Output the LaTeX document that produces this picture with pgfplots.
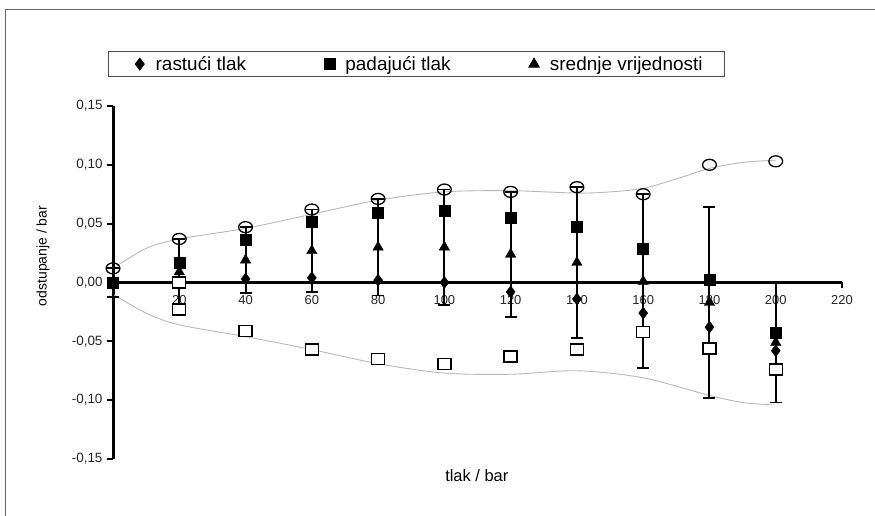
\documentclass[border=0pt]{standalone}
\usepackage{fontspec}
\setmainfont{Liberation Sans}
\usepackage{pgfplots}
\pgfplotsset{compat=1.18}
\pgfplotsset{
    legmark/.style={legend image code/.code={
        \path (-9bp,0bp) (15.5bp,0bp);
        \draw[##1] plot coordinates {(0bp,0bp)};
    }},
}
\begin{document}
\begin{tikzpicture}[x=1bp,y=1bp]
\useasboundingbox (0,0) rectangle (875,516);
% chart area frame (only top and left edges show)
\draw[line width=1bp, black!60] (5,0) -- (5,506) -- (875,506);
\begin{axis}[
    at={(113bp,57bp)}, anchor=south west,
    scale only axis, width=729bp, height=353bp,
    xmin=0, xmax=220, ymin=-0.15, ymax=0.15,
    enlargelimits=false, clip=false,
    axis x line=middle, axis y line=left,
    axis line style={line width=3bp, -},
    xtick={0,20,...,220},
    ytick={-0.15,-0.1,...,0.15},
    tick align=outside,
    major tick length=6bp,
    tick style={line width=2bp, black},
    /pgf/number format/assume math mode=true,
    yticklabel style={font=\fontsize{13.5}{16}\selectfont, text=black!85, xshift=-1bp,
        /pgf/number format/use comma, /pgf/number format/fixed,
        /pgf/number format/fixed zerofill, /pgf/number format/precision=2},
    xticklabel style={font=\fontsize{13}{15}\selectfont, text=black!85, yshift=-3bp},
    xlabel={tlak / bar}, ylabel={odstupanje / bar},
    xlabel style={font=\fontsize{16.5}{19}\selectfont,
        at={(axis description cs:0.499,-0.048)}, anchor=center},
    ylabel style={font=\fontsize{14}{17}\selectfont,
        at={(axis description cs:-0.096,0.575)}, anchor=center},
    legend columns=3,
    legend style={at={(axis description cs:-0.0069,1.1558)}, anchor=north west,
        draw=black!70, line width=0.8bp, font=\fontsize{19}{22}\selectfont,
        inner xsep=22bp, inner ysep=5bp,
        nodes={inner sep=0bp},
        /tikz/every odd column/.append style={column sep=0bp},
        /tikz/every even column/.append style={column sep=74bp}},
    legend cell align=left,
]
% smooth envelope lines
\addplot[forget plot, gray!55, line width=0.9bp, smooth] coordinates {
    (0,0.012) (10,0.029) (20,0.037) (40,0.046) (60,0.058) (80,0.070) (100,0.077)
    (120,0.078) (140,0.076) (150,0.077) (160,0.080) (170,0.088) (180,0.097) (190,0.102) (200,0.104)
};
\addplot[forget plot, gray!55, line width=0.9bp, smooth] coordinates {
    (0,-0.010) (10,-0.026) (20,-0.036) (40,-0.046) (60,-0.057) (80,-0.069) (100,-0.077)
    (120,-0.078) (140,-0.075) (160,-0.081) (180,-0.096) (190,-0.102) (199,-0.104)
};
% rastuci tlak
\addplot[only marks, mark=diamond*, mark size=6bp, black, legmark] coordinates {
    (0,0) (20,0.001) (40,0.003) (60,0.004) (80,0.002) (100,0.0) (120,-0.008)
    (140,-0.014) (160,-0.026) (180,-0.038) (200,-0.058)
};
\addlegendentry{rastući tlak}
% padajuci tlak
\addplot[only marks, mark=square*, mark size=5.5bp, black, legmark] coordinates {
    (0,0) (20,0.017) (40,0.036) (60,0.052) (80,0.059) (100,0.061) (120,0.055)
    (140,0.047) (160,0.029) (180,0.002) (200,-0.043)
};
\addlegendentry{padajući tlak}
% srednje vrijednosti with error bars
\addplot[only marks, mark=triangle*, mark size=6bp, black, legmark,
    error bars/.cd, y dir=both, y explicit,
    error bar style={line width=2bp, black},
    error mark options={rotate=90, mark size=6bp, line width=1.8bp, black}]
  coordinates {
    (0,0.000) +- (0,0.012)
    (20,0.009) +- (0,0.028)
    (40,0.019) +- (0,0.028)
    (60,0.027) +- (0,0.035)
    (80,0.030) +- (0,0.041)
    (100,0.030) +- (0,0.049)
    (120,0.024) +- (0,0.053)
    (140,0.017) +- (0,0.064)
    (160,0.001) +- (0,0.074)
    (180,-0.017) +- (0,0.081)
    (200,-0.051) +- (0,0.051)
};
\addlegendentry{srednje vrijednosti}
% upper limit (open circles)
\addplot[forget plot, only marks, mark=o, mark size=5.5bp, black,
    mark options={xscale=1.25, line width=1.3bp}] coordinates {
    (0,0.012) (20,0.037) (40,0.047) (60,0.062) (80,0.071) (100,0.079) (120,0.077)
    (140,0.081) (160,0.075) (180,0.100) (200,0.103)
};
% lower limit (open squares)
\addplot[forget plot, only marks, mark=square*, mark size=6.5bp, black,
    mark options={fill=white, yscale=0.85, line width=1.3bp}] coordinates {
    (20,0.0) (20,-0.023) (40,-0.041) (60,-0.057) (80,-0.065) (100,-0.069) (120,-0.063)
    (140,-0.057) (160,-0.042) (180,-0.056) (200,-0.074)
};
\end{axis}
\end{tikzpicture}
\end{document}
